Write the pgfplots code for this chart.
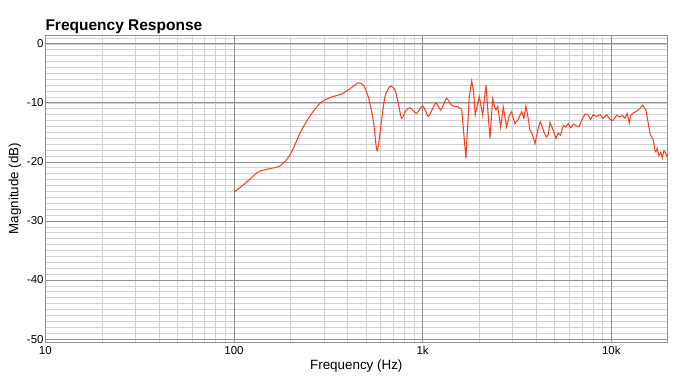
\documentclass[border=0pt]{standalone}
\usepackage{pgfplots}
\pgfplotsset{compat=1.18}
\usepackage{fontspec}
\setmainfont{Liberation Sans}
\definecolor{curve}{RGB}{250,62,32}
\definecolor{majgrid}{RGB}{145,145,145}
\definecolor{mingrid}{RGB}{210,210,210}
\begin{document}
\begin{tikzpicture}[x=1pt,y=1pt]
\path[use as bounding box] (0,0) rectangle (700,381);
\begin{axis}[
  at={(45.3pt,39pt)}, anchor=south west,
  scale only axis, width=622pt, height=307pt,
  xmode=log, log basis x=10,
  xmin=10, xmax=19800, ymin=-50.5, ymax=1.5,
  xtick={10,100,1000,10000}, xticklabels={10,100,1k,10k},
  minor xtick={20,30,40,50,60,70,80,90,200,300,400,500,600,700,800,900,2000,3000,4000,5000,6000,7000,8000,9000},
  ytick={-50,-40,-30,-20,-10,0}, yticklabels={-50,-40,-30,-20,-10,0},
  minor ytick={-49,-48,...,1},
  extra x ticks={100,1000,10000}, extra x tick labels={},
  extra y ticks={-50,-40,-30,-20,-10,0}, extra y tick labels={},
  extra tick style={grid=major, major grid style={draw=majgrid, line width=0.8pt}},
  /pgf/number format/assume math mode=true,
  major tick length=0pt, minor tick length=0pt,
  xminorgrids=true, yminorgrids=true, xmajorgrids=false, ymajorgrids=false,
  minor grid style={draw=mingrid, line width=0.7pt},
  axis line style={draw=majgrid, line width=0.9pt},
  tick label style={font=\fontsize{11.5}{13}\selectfont, text=black},
  yticklabel style={inner sep=1.5pt},
  xticklabel style={inner sep=4pt},
  every axis title shift=0pt,
  title={\fontsize{15.5}{18}\selectfont\bfseries Frequency Response},
  title style={at={(axis description cs:0,1)}, anchor=base west, inner sep=0pt, yshift=4.3pt},
  xlabel={Frequency (Hz)},
  xlabel style={font=\fontsize{13.4}{15}\selectfont, at={(axis description cs:0.5,0)}, anchor=base, inner sep=0pt, yshift=-27pt},
  clip=false,
]
\addplot[curve, line width=1.05pt, smooth, tension=0.45] coordinates {
(100,-25.1) (114,-23.7) (134.5,-21.7) (152,-21.2) (172,-20.8) (186,-20.0)
(202,-18.3) (228,-14.6) (258,-11.8) (292,-9.8) (330,-9.0) (372,-8.5)
(412,-7.6) (456,-6.6) (485,-7.0) (515,-9.0) (547,-12.9) (574,-18.1)
(606,-12.9) (631,-9.0) (671,-7.2) (713,-7.8) (743,-10.1) (774,-12.6)
(815,-11.3) (857,-10.8) (893,-11.4) (930,-11.8) (965,-11.0) (1000,-10.5) (1035,-11.3) (1071,-12.3)
(1120,-11.2) (1175,-10.0) (1210,-10.6) (1245,-11.2) (1290,-10.3) (1340,-9.2) (1380,-9.8) (1425,-10.4)
(1490,-10.6) (1545,-10.7) (1610,-11.1)
};
\addplot[curve, line width=1.05pt] coordinates {
(1610,-11.1) (1695,-19.4) (1766,-9.0) (1820,-6.3) (1860,-8.0) (1900,-12.0) (1996,-8.9)
(2080,-12.1) (2165,-7.0) (2273,-16.0) (2350,-9.3) (2400,-10.5) (2445,-11.2) (2500,-10.6)
(2590,-14.1) (2675,-10.7) (2785,-14.1) (2870,-12.3) (2960,-11.5) (3080,-13.5)
(3210,-12.8) (3345,-11.5) (3440,-12.6) (3525,-10.5) (3620,-12.5) (3700,-14.6)
(3800,-15.2) (3940,-16.9) (4100,-14.2) (4200,-13.2) (4300,-14.0) (4400,-15.0) (4530,-15.8)
(4630,-15.4) (4730,-13.3) (4900,-14.5) (5080,-16.0) (5230,-15.1) (5380,-15.5)
(5560,-13.8) (5740,-14.1) (5910,-13.5) (6085,-14.2) (6300,-13.6) (6545,-13.9)
(6750,-14.0) (6970,-12.9) (7250,-11.9) (7550,-12.1) (7770,-12.8) (8020,-12.0)
(8350,-12.3) (8710,-12.0) (9060,-12.6) (9440,-12.0) (9840,-12.8) (10170,-13.0)
(10670,-12.1) (11110,-12.4) (11450,-12.1) (11800,-12.6) (12130,-11.8) (12440,-13.4)
(12650,-12.1) (13070,-11.7) (13620,-11.4) (14190,-10.9) (14650,-10.4) (15250,-11.2)
(15700,-13.5) (16030,-15.2) (16680,-16.3) (17000,-18.0) (17220,-18.3) (17500,-17.7)
(17850,-18.9) (18300,-18.4) (18600,-19.3) (19000,-18.1) (19400,-18.5) (19650,-19.0) (19800,-18.7)
};
\node[rotate=90, anchor=base, inner sep=0pt, font=\fontsize{13.4}{15}\selectfont]
  at ([xshift=-27pt]axis description cs:0,0.5) {Magnitude (dB)};
\end{axis}
\end{tikzpicture}
\end{document}
